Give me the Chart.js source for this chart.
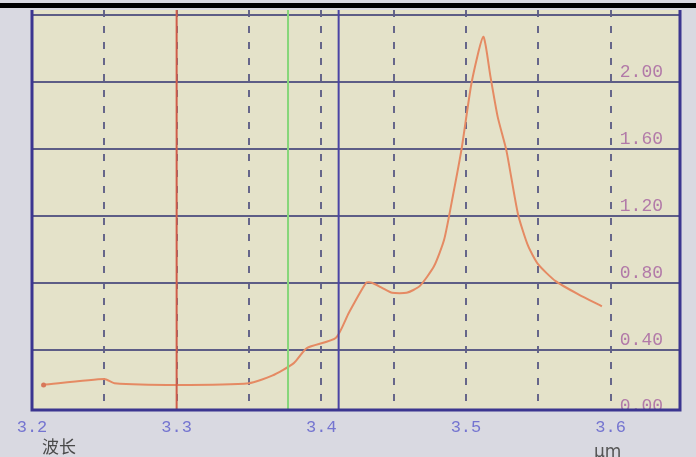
<!DOCTYPE html>
<html>
<head>
<meta charset="utf-8">
<script src="https://cdn.jsdelivr.net/npm/chart.js@4.4.1/dist/chart.umd.min.js"></script>
<style>
  html, body { margin: 0; padding: 0; background: #d9d9e1; }
  #wrap { width: 696px; height: 457px; position: relative; }
</style>
</head>
<body>
<div id="wrap"><canvas id="chart"></canvas></div>
<script>
// spectrum readout: wavelength vs. signal
const waveLen = [3.208, 3.25, 3.257, 3.30, 3.35, 3.366, 3.381, 3.39, 3.41, 3.419, 3.431, 3.435, 3.442, 3.449, 3.459, 3.468,
  3.478, 3.485, 3.491, 3.497, 3.504, 3.512, 3.517, 3.522, 3.528, 3.536, 3.543, 3.550, 3.562, 3.578, 3.594];
const signal = [0.19, 0.225, 0.20, 0.19, 0.20, 0.245, 0.32, 0.41, 0.47, 0.62, 0.80, 0.80, 0.77, 0.74, 0.74, 0.78,
  0.90, 1.06, 1.32, 1.60, 2.00, 2.27, 2.03, 1.79, 1.59, 1.21, 1.02, 0.91, 0.81, 0.73, 0.66];

// cursor lines (red, green, blue)
const markerX = [3.30, 3.377, 3.412];
const markerColor = ['#cf5d4a', '#86d67a', '#4a44a4'];

const xTicks = [3.2, 3.25, 3.3, 3.35, 3.4, 3.45, 3.5, 3.55, 3.6];
const xTickLabels = ['3.2', '', '3.3', '', '3.4', '', '3.5', '', '3.6'];
const yTicks = [0, 0.4, 0.8, 1.2, 1.6, 2.0, 2.4];
const yTickLabels = ['0.00', '0.40', '0.80', '1.20', '1.60', '2.00', ''];

const xMin = 3.2, xMax = 3.648;
const yMin = 0.04, yMax = 2.43;

const xAxisName = '波长';
const unitName = 'μm';

const frame = {
  id: 'frame',
  beforeDraw(chart) {
    const { ctx, chartArea: a } = chart;
    ctx.save();
    ctx.fillStyle = '#e4e2c9';
    ctx.fillRect(a.left, a.top, a.right - a.left, a.bottom - a.top);
    ctx.restore();
  },
  afterDraw(chart) {
    const { ctx, chartArea: a } = chart;
    ctx.save();
    ctx.strokeStyle = '#3b3590';
    ctx.lineWidth = 3;
    ctx.beginPath();
    ctx.moveTo(a.left, a.top);
    ctx.lineTo(a.left, a.bottom);
    ctx.lineTo(a.right, a.bottom);
    ctx.lineTo(a.right, a.top);
    ctx.stroke();
    // black edge across the top of the photo
    ctx.fillStyle = '#000';
    ctx.fillRect(0, 3, chart.width, 5);
    // axis captions
    ctx.fillStyle = '#4a4a4a';
    ctx.font = '17px "Noto Sans CJK SC"';
    ctx.textBaseline = 'middle';
    ctx.fillText(xAxisName, 42, 447);
    ctx.fillStyle = '#555';
    ctx.font = '17px "DejaVu Sans"';
    ctx.textBaseline = 'top';
    ctx.fillText(unitName, 594, 444);
    ctx.restore();
  }
};

const datasets = markerX.map((x, i) => ({
  data: [{ x: x, y: yMin }, { x: x, y: yMax }],
  borderColor: markerColor[i],
  borderWidth: 2,
  pointRadius: 0
}));
datasets.push({
  data: waveLen.map((x, i) => ({ x: x, y: signal[i] })),
  borderColor: '#e58a63',
  borderWidth: 2,
  tension: 0.2,
  pointRadius: ctx => ctx.dataIndex === 0 ? 2.5 : 0,
  pointBackgroundColor: '#d8785a',
  pointBorderWidth: 0
});

new Chart(document.getElementById('chart'), {
  type: 'line',
  data: { datasets },
  options: {
    responsive: true,
    maintainAspectRatio: false,
    animation: false,
    layout: { padding: { left: 32, right: 16, top: 10, bottom: 0 } },
    plugins: { legend: { display: false }, tooltip: { enabled: false } },
    scales: {
      x: {
        type: 'linear',
        min: xMin,
        max: xMax,
        afterBuildTicks: s => { s.ticks = xTicks.map(v => ({ value: v })); },
        afterFit: s => { s.height = 47; s.paddingLeft = 0; s.paddingRight = 0; },
        grid: {
          color: '#66668a',
          lineWidth: 2,
          drawTicks: false
        },
        border: { display: false, dash: [7, 9] },
        ticks: {
          autoSkip: false,
          maxRotation: 0,
          padding: 7,
          color: '#7474d0',
          font: { family: 'Liberation Mono', size: 17 },
          callback: (v, i) => xTickLabels[i]
        }
      },
      y: {
        type: 'linear',
        position: 'right',
        min: yMin,
        max: yMax,
        afterBuildTicks: s => { s.ticks = yTicks.map(v => ({ value: v })); },
        afterFit: s => { s.width = 0; s.paddingTop = 0; s.paddingBottom = 0; },
        grid: {
          color: c => c.tick && c.tick.value === 0 ? 'rgba(0,0,0,0)' : '#5d5d86',
          lineWidth: 2,
          drawTicks: false
        },
        border: { display: false },
        ticks: {
          mirror: true,
          padding: -17,
          labelOffset: -10,
          color: '#b27aa8',
          font: { family: 'Liberation Mono', size: 18 },
          callback: (v, i) => yTickLabels[i]
        }
      }
    }
  },
  plugins: [frame]
});
</script>
</body>
</html>
